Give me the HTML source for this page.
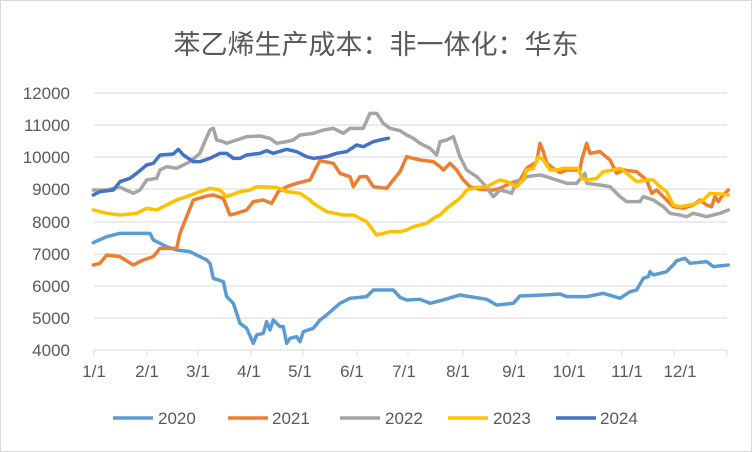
<!DOCTYPE html>
<html><head><meta charset="utf-8"><style>
body{margin:0;background:#fff}
svg{display:block}
text{font-family:"Liberation Sans","Noto Sans CJK SC",sans-serif;fill:#595959}
.l{fill:none;stroke-width:3.5;vector-effect:non-scaling-stroke;stroke-linejoin:round;stroke-linecap:round}
</style></head><body>
<svg width="752" height="452" viewBox="0 0 752 452">
<rect x="0.5" y="0.5" width="751" height="451" fill="#fff" stroke="#d9d9d9"/>
<text x="376" y="54" font-size="27" text-anchor="middle">苯乙烯生产成本：非一体化：华东</text>
<g stroke="#d9d9d9" stroke-width="1">
<line x1="94" x2="727" y1="93" y2="93"/><line x1="94" x2="727" y1="125" y2="125"/><line x1="94" x2="727" y1="157" y2="157"/><line x1="94" x2="727" y1="189" y2="189"/><line x1="94" x2="727" y1="222" y2="222"/><line x1="94" x2="727" y1="254" y2="254"/><line x1="94" x2="727" y1="286" y2="286"/><line x1="94" x2="727" y1="318" y2="318"/><line x1="94" x2="727" y1="350" y2="350"/>
<line x1="94" x2="94" y1="350" y2="356"/><line x1="147" x2="147" y1="350" y2="356"/><line x1="198" x2="198" y1="350" y2="356"/><line x1="251" x2="251" y1="350" y2="356"/><line x1="303" x2="303" y1="350" y2="356"/><line x1="357" x2="357" y1="350" y2="356"/><line x1="408" x2="408" y1="350" y2="356"/><line x1="463" x2="463" y1="350" y2="356"/><line x1="516" x2="516" y1="350" y2="356"/><line x1="568" x2="568" y1="350" y2="356"/><line x1="622" x2="622" y1="350" y2="356"/><line x1="674" x2="674" y1="350" y2="356"/><line x1="727" x2="727" y1="350" y2="356"/>
</g>
<g font-size="17" text-anchor="end">
<text x="70" y="99">12000</text><text x="70" y="131">11000</text><text x="70" y="163">10000</text><text x="70" y="195">9000</text><text x="70" y="228">8000</text><text x="70" y="260">7000</text><text x="70" y="292">6000</text><text x="70" y="324">5000</text><text x="70" y="356">4000</text>
</g>
<g font-size="17" text-anchor="middle">
<text x="94" y="377">1/1</text><text x="147" y="377">2/1</text><text x="198" y="377">3/1</text><text x="249" y="377">4/1</text><text x="300" y="377">5/1</text><text x="352" y="377">6/1</text><text x="404" y="377">7/1</text><text x="458" y="377">8/1</text><text x="514" y="377">9/1</text><text x="569" y="377">10/1</text><text x="627" y="377">11/1</text><text x="680" y="377">12/1</text>
</g>
<g transform="translate(80,90) scale(0.3333)">
<polyline class="l" stroke="#5B9BD5" points="40,458 80,440 120,430 210,430 220,450 260,470 290,480 330,485 360,500 380,510 390,520 400,565 430,575 440,620 460,640 480,700 500,715 520,760 530,735 550,730 560,695 570,720 580,690 600,710 610,710 620,760 630,745 650,740 660,755 670,725 700,715 720,690 740,675 780,640 810,625 860,620 880,600 940,600 960,622"/>
<polyline class="l" stroke="#ED7D31" points="40,525 60,520 80,495 120,500 160,525 190,510 220,500 240,475 290,475 300,430 320,380 340,330 380,318 400,315 430,325 450,375 470,370 500,360 520,335 550,330 575,340 595,305 620,290 650,280 690,270 710,230 720,212 760,220 780,250 810,260 820,290 840,260 860,260 880,290 920,295 940,270 960,245"/>
<polyline class="l" stroke="#A5A5A5" points="40,300 80,300 100,295 120,292 160,310 180,300 190,285 200,270 230,265 240,240 260,230 290,235 330,215 360,190 370,165 390,120 400,115 410,150 430,155 440,160 470,150 500,140 540,138 570,145 590,160 620,155 640,150 660,135 700,130 730,120 760,115 790,130 810,115 850,115 870,70 890,70 910,100 930,115 960,122"/>
<polyline class="l" stroke="#FFC000" points="40,360 80,370 120,375 170,370 200,355 230,360 260,345 290,330 320,320 360,305 390,295 420,300 440,320 480,305 510,300 530,290 590,292 620,305 660,310 690,330 700,340 740,365 790,375 820,375 860,395 890,435 930,425 960,425"/>
<polyline class="l" stroke="#4472C4" points="40,315 60,305 100,300 120,275 150,265 170,250 200,225 220,220 240,195 280,192 295,178 310,195 340,215 360,215 390,205 420,190 440,190 460,205 480,205 500,195 540,190 560,182 580,190 620,178 650,185 680,200 700,205 740,200 770,190 800,185 830,165 850,170 880,155 900,150 925,145"/>
</g>
<g transform="translate(400,90) scale(0.3333)">
<polyline class="l" stroke="#5B9BD5" points="0,622 20,630 60,628 90,640 130,630 180,615 210,620 260,628 290,645 340,640 360,618 430,615 480,612 500,620 560,620 610,610 660,625 690,605 710,600 730,565 745,560 750,545 760,555 800,545 820,525 830,512 855,505 870,520 920,515 940,530 985,525"/>
<polyline class="l" stroke="#ED7D31" points="0,245 20,200 60,210 100,215 120,230 130,240 150,220 170,240 190,270 210,290 240,298 280,300 300,295 330,280 360,270 380,235 410,215 420,160 430,185 440,220 460,235 480,248 500,240 540,240 545,210 560,160 570,190 600,185 630,210 650,250 670,240 710,245 740,270 755,310 770,300 800,330 820,350 850,355 880,345 900,330 920,345 935,350 945,320 955,335 965,320 985,300"/>
<polyline class="l" stroke="#A5A5A5" points="0,122 20,135 40,145 60,160 90,175 110,195 120,155 140,150 160,140 180,200 200,240 230,260 250,280 280,320 300,300 320,305 335,310 350,275 370,270 380,260 420,255 440,260 470,270 500,280 530,280 555,250 560,280 600,285 630,290 660,320 680,335 720,335 730,320 760,330 790,350 810,370 840,375 860,380 880,370 920,380 940,375 960,370 985,360"/>
<polyline class="l" stroke="#FFC000" points="0,425 20,420 40,410 80,400 100,385 120,375 140,355 160,340 180,325 200,300 230,292 260,290 280,280 300,270 320,275 350,290 370,270 380,240 400,235 415,200 430,210 450,240 470,240 490,235 535,235 545,265 560,270 590,265 610,245 640,240 660,235 680,250 710,275 740,270 760,270 780,290 800,305 820,345 840,350 870,345 890,340 910,330 930,310 960,312 985,315"/>
</g>
<g stroke-width="3.5">
<line x1="113" x2="153" y1="418" y2="418" stroke="#5B9BD5"/>
<line x1="228" x2="268" y1="418" y2="418" stroke="#ED7D31"/>
<line x1="340" x2="380" y1="418" y2="418" stroke="#A5A5A5"/>
<line x1="448" x2="488" y1="418" y2="418" stroke="#FFC000"/>
<line x1="556" x2="596" y1="418" y2="418" stroke="#4472C4"/>
</g>
<g font-size="17">
<text x="158" y="424">2020</text><text x="272" y="424">2021</text><text x="385" y="424">2022</text><text x="493" y="424">2023</text><text x="600" y="424">2024</text>
</g>
</svg>
</body></html>
